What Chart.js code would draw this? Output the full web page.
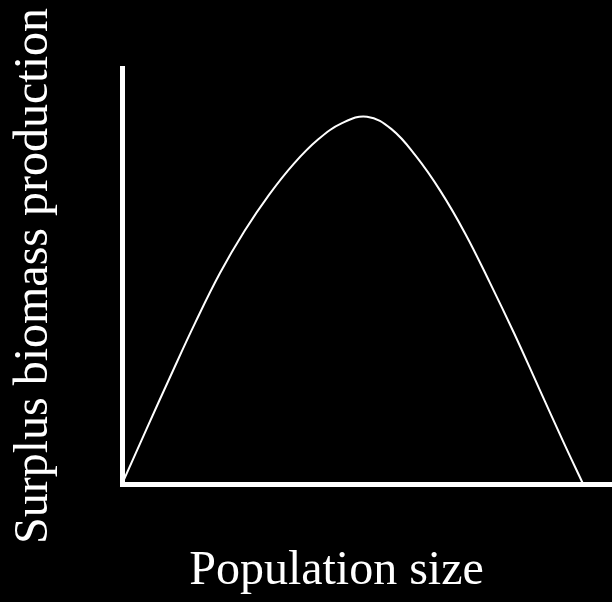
<!DOCTYPE html>
<html>
<head>
<meta charset="utf-8">
<title>Surplus production</title>
<script src="https://cdn.jsdelivr.net/npm/chart.js@4"></script>
<style>
  html, body { margin: 0; padding: 0; background: #000; }
  canvas { display: block; }
</style>
</head>
<body>
<canvas id="surplusChart" width="612" height="602"></canvas>
<script>
// population size (arbitrary units, 0-100) and the matching surplus production
const popSize = [0, 5, 10, 15, 20, 25, 30, 35, 40, 45, 50, 55, 60, 65, 70, 75, 80, 85, 90, 94.1];
const surplus = [0, 13.2, 26.2, 38.9, 50.7, 60.8, 69.5, 76.9, 82.8, 86.8, 88.3, 85.3, 78.8, 70.4, 60.3, 48.6, 36.3, 23.3, 10.3, 0];

const xLabel = 'Population size';
const yLabel = 'Surplus biomass production';

const points = popSize.map((x, i) => ({ x: x, y: surplus[i] }));

const serif = { family: '"Liberation Serif", "Times New Roman", serif', size: 48, weight: 'normal' };

const ctx = document.getElementById('surplusChart').getContext('2d');
const surplusChart = new Chart(ctx, {
    type: 'line',
    data: {
        datasets: [{
            data: points,
            borderColor: '#fff',
            borderWidth: 2,
            pointRadius: 0,
            fill: false,
            tension: 0.4
        }]
    },
    options: {
        responsive: false,
        animation: false,
        layout: {
            padding: { left: 61, top: 68, right: 0, bottom: 0 }
        },
        plugins: {
            legend: { display: false },
            tooltip: { enabled: false },
            // x axis caption sits in the bottom title box
            title: {
                display: true,
                position: 'bottom',
                text: xLabel,
                color: '#fff',
                font: serif,
                padding: { top: 0, bottom: 2 }
            }
        },
        scales: {
            x: {
                type: 'linear',
                min: 0,
                max: 100,
                grid: { display: false },
                ticks: { display: false },
                border: { color: '#fff', width: 5 },
                afterFit: (scale) => { scale.height = 58.4; }
            },
            y: {
                min: 0,
                max: 100,
                grid: { display: false },
                ticks: { display: false },
                border: { color: '#fff', width: 5 },
                title: {
                    display: true,
                    text: yLabel,
                    color: '#fff',
                    font: serif,
                    padding: { top: -55 }
                },
                afterFit: (scale) => { scale.width = 61; }
            }
        }
    }
});
</script>
</body>
</html>
